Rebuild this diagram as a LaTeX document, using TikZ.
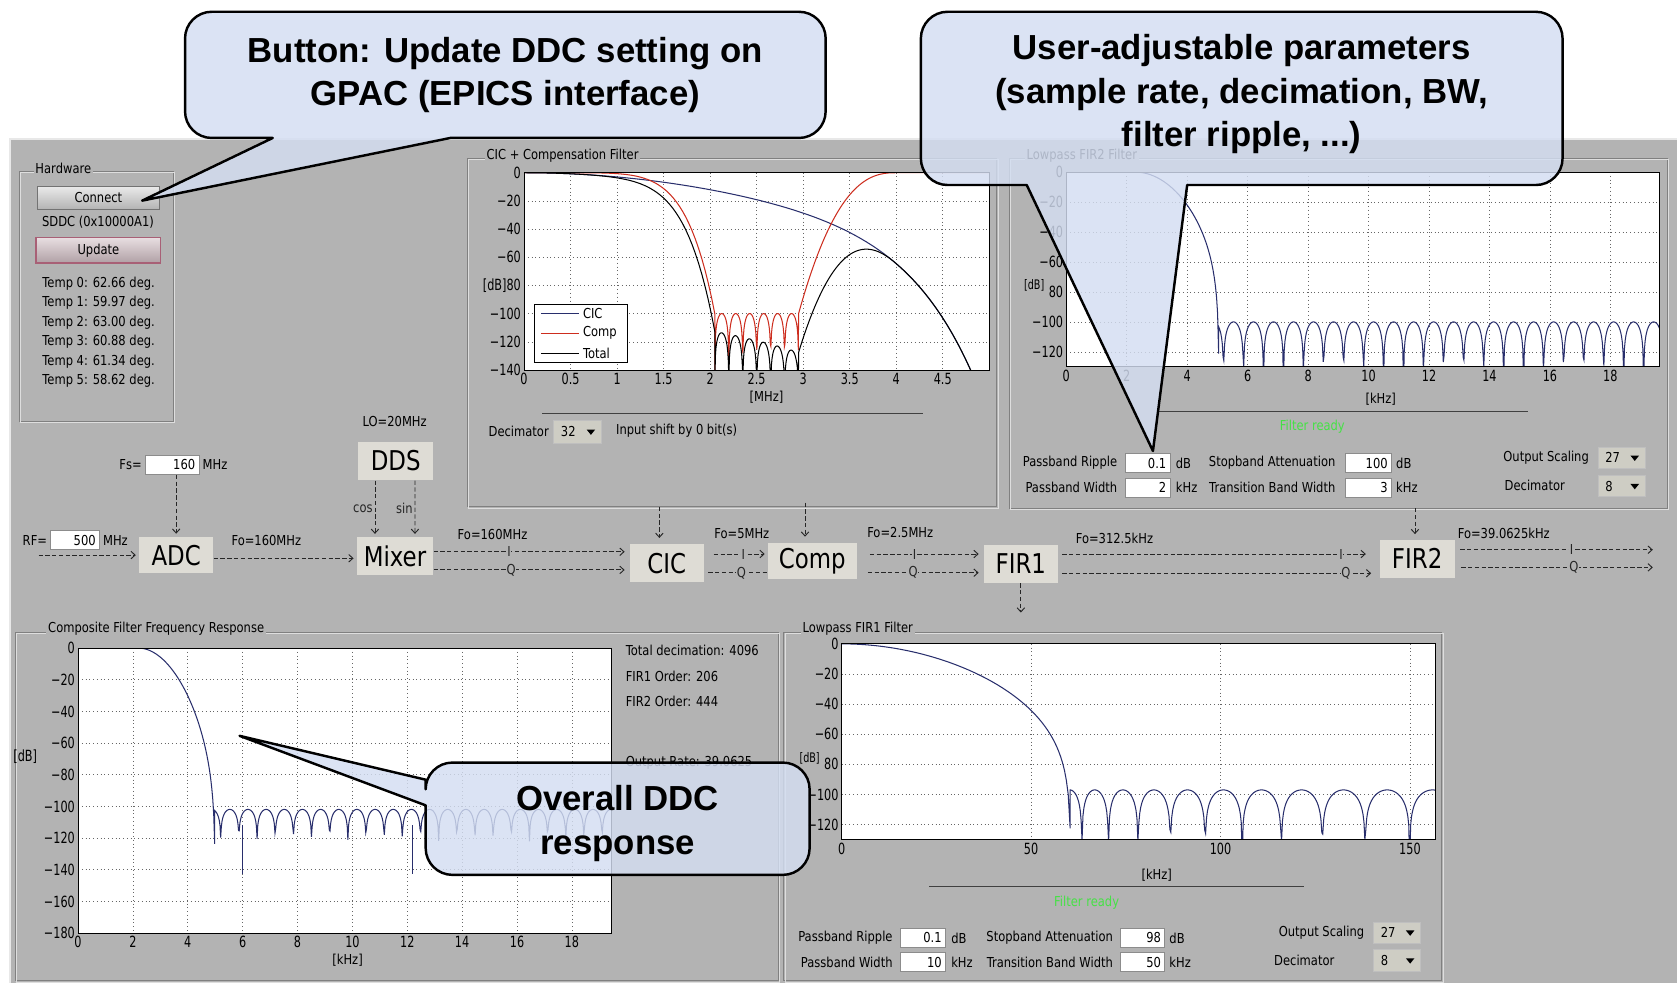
\documentclass[tikz,border=0pt]{standalone}
\usepackage{fontspec}
\usetikzlibrary{arrows.meta,positioning,calc}
\newfontfamily\guifont[FakeStretch=0.84]{DejaVu Sans}
\newfontfamily\tickfont[FakeStretch=0.73]{DejaVu Sans}
\newfontfamily\callfont{Liberation Sans}
\definecolor{guibg}{RGB}{179,179,179}
\definecolor{blockbg}{RGB}{222,220,213}
\definecolor{combobg}{RGB}{206,205,196}
\definecolor{calloutbg}{RGB}{212,222,242}
\definecolor{cicnavy}{RGB}{40,46,108}
\definecolor{compred}{RGB}{205,45,30}
\definecolor{readygreen}{RGB}{70,225,70}
\definecolor{panellight}{RGB}{222,222,222}
\definecolor{paneldark}{RGB}{128,128,128}

\begin{document}
\begin{tikzpicture}[x=0.02cm, y=-0.02cm,
    declare function={
      cic(\ff)=-3*\ff*\ff-71*(\ff/4.8)^8;
      compr(\ff)=-100*((4-\ff)/1.05)^2*sqrt((4-\ff)/1.05);
      lp(\zz,\kk)=-\kk*\zz*\zz+40*log10(max(1-\zz^6,0.0001));
      lobe(\pp)=20*log10(abs(sin(\pp))+0.001);
    },
    gui/.style={font=\guifont\fontsize{7.3}{8.5}\selectfont, inner sep=1pt},
    ticklab/.style={font=\tickfont\fontsize{8.2}{9}\selectfont, inner sep=1.5pt},
    block/.style={fill=blockbg, inner sep=0pt, font=\guifont\fontsize{14.5}{16}\selectfont},
    field/.style={gui, fill=white, draw=black!45, line width=0.4pt, minimum height=0.36cm,
      inner xsep=2pt, align=right},
    combo/.style={gui, fill=combobg, draw=black!25, line width=0.4pt, minimum height=0.4cm,
      minimum width=0.88cm, text width=0.6cm, inner xsep=2pt, align=left,
      path picture={\fill[black] ([xshift=-0.27cm,yshift=0.04cm]path picture bounding box.east)
        -- ++(0.16cm,0) -- ++(-0.08cm,-0.1cm) -- cycle;}},
    button/.style={gui, top color=white!92!black, bottom color=black!30, draw=black!55,
      line width=0.5pt},
    asciiline/.style={black!85, line width=0.5pt, dash pattern=on 2.3pt off 1.3pt},
    asciiarrow/.style={asciiline, -{Straight Barb[length=2.2pt,width=4pt]}, shorten >=1.5pt},
    iqmark/.style={gui, fill=guibg, inner sep=0.3pt},
    gridline/.style={black!60, line width=0.35pt, dash pattern=on 0.5pt off 1.5pt},
    plotframe/.style={black, line width=0.5pt},
    navytrace/.style={cicnavy, line width=0.55pt},
    callout/.style={fill=calloutbg, fill opacity=0.82, draw=black, line width=1.3pt, line join=round},
    calltext/.style={font=\callfont\bfseries\fontsize{18.5}{23}\selectfont, align=center, text=black}]

  \useasboundingbox (0,0) rectangle (1568,919);
  \fill[white] (0,0) rectangle (1568,919);

  % Application window
  \fill[guibg] (9.4,130.3) rectangle (1568,919);
  \draw[white!70!guibg, line width=1pt] (9.4,919) -- (9.4,130.3) -- (1568,130.3);

  % Panel frames
  \foreach \xa/\ya/\xb/\yb in {17.8/160.5/162/394, 437/148/932/474, 944/148/1559/475,
                               14/591/728/917, 733/591/1348/917} {
    \draw[paneldark, line width=0.5pt] (\xa,\ya) rectangle (\xb,\yb);
    \draw[panellight, line width=0.5pt] (\xa+1.2,\ya+1.2) rectangle (\xb+1.2,\yb+1.2);
  }
  \node[gui, fill=guibg] (hwtitle) at (59.2,157) {Hardware};
  \node[gui, fill=guibg] (cictitle) at (526,146) {CIC + Compensation Filter};
  \node[gui, fill=guibg] (fir2title) at (1011.5,146) {Lowpass FIR2 Filter};
  \node[gui, fill=guibg] (comptitle) at (146,588) {Composite Filter Frequency Response};
  \node[gui, fill=guibg] (fir1title) at (802,588) {Lowpass FIR1 Filter};

  % Hardware panel
  \node[button, minimum width=2.28cm, minimum height=0.44cm] (connect) at (92,185) {Connect};
  \node[gui] (sddc) at (91.6,207.3) {SDDC (0x10000A1)};
  \node[button, draw={rgb,255:red,168;green,96;blue,118}, line width=0.8pt,
        top color={rgb,255:red,232;green,222;blue,225}, bottom color={rgb,255:red,176;green,160;blue,165},
        minimum width=2.33cm, minimum height=0.48cm] (update) at (92,234) {Update};
  \foreach \tn/\val [count=\i] in {0/62.66,1/59.97,2/63.00,3/60.88,4/61.34,5/58.62}
    \node[gui, anchor=west] (temp\i) at (37.5,{246.8+18.2*\i}) {Temp \tn: \val\ deg.};

  % CIC + compensation response
  \begin{scope}[shift={(490,161.5)}, xscale=87, yscale=-1.318]
    \fill[white] (0,0) rectangle (5,-140);
    \foreach \gx in {0.5,1,...,4.5} \draw[gridline] (\gx,0) -- (\gx,-140);
    \foreach \gy in {-20,-40,...,-120} \draw[gridline] (0,\gy) -- (5,\gy);
    \foreach \gx [count=\i] in {0,0.5,1,1.5,2,2.5,3,3.5,4,4.5}
      \node[ticklab, below] (cicx\i) at (\gx,-140) {\gx};
    \foreach \gy/\lab [count=\i] in {0/0,-20/−20,-40/−40,-60/−60,-80/{[dB]80},-100/−100,-120/−120,-140/−140}
      \node[ticklab, left] (cicy\i) at (0,\gy) {\lab};
    \begin{scope}
      \clip (0,0) rectangle (5,-140);
      \draw[navytrace] plot[domain=0:4.85, samples=80] (\x,{cic(\x)});
      \draw[compred, line width=0.55pt] plot[domain=0:2.05, samples=60] (\x,{-100*(\x/2.05)^7})
        -- plot[domain=2.05:2.95, samples=150] (\x,{-100+20*log10(abs(sin(1200*(\x-2.05)))+0.01)})
        -- plot[domain=2.95:4, samples=50] (\x,{compr(\x)}) -- (5,0);
      \draw[black, line width=0.55pt] plot[domain=0:2.05, samples=60] (\x,{cic(\x)-100*(\x/2.05)^7})
        -- plot[domain=2.05:2.95, samples=150] (\x,{cic(\x)-100+20*log10(abs(sin(1200*(\x-2.05)))+0.01)})
        -- plot[domain=2.95:4, samples=50] (\x,{cic(\x)+compr(\x)})
        -- plot[domain=4:4.85, samples=30] (\x,{cic(\x)});
    \end{scope}
    \draw[plotframe] (0,0) rectangle (5,-140);
  \end{scope}
  % Legend
  \draw[black, line width=0.5pt, fill=white] (499.3,285) rectangle (586.3,339);
  \draw[cicnavy, line width=0.6pt] (506,293) -- (541.5,293);
  \draw[compred, line width=0.6pt] (506,311.6) -- (541.5,311.6);
  \draw[black, line width=0.6pt] (506,330.3) -- (541.5,330.3);
  \node[gui, anchor=west] (legcic) at (543,293) {CIC};
  \node[gui, anchor=west] (legcomp) at (543,311.6) {Comp};
  \node[gui, anchor=west] (legtotal) at (543,330.3) {Total};
  \node[gui] (cicunit) at (716.7,371) {[MHz]};
  \draw[black!75, line width=0.6pt] (507,387) -- (863,387);
  \node[gui] (cicdeclab) at (485,403) {Decimator};
  \node[combo, minimum width=0.9cm, minimum height=0.44cm] (cicdec) at (539.5,403.6) {32};
  \node[gui, anchor=west] (cicshift) at (574,403) {Input shift by 0 bit(s)};

  % FIR2 response
  \begin{scope}[shift={(997,161)}, xscale=28.26, yscale=-1.4]
    \fill[white] (0,0) rectangle (19.64,-130);
    \foreach \gx in {2,4,...,18} \draw[gridline] (\gx,0) -- (\gx,-130);
    \foreach \gy in {-20,-40,...,-120} \draw[gridline] (0,\gy) -- (19.64,\gy);
    \foreach \gx [count=\i] in {0,2,...,18}
      \node[ticklab, below] (f2x\i) at (\gx,-130) {\gx};
    \foreach \gy/\lab [count=\i] in {0/0,-20/−20,-40/−40,-60/−60,-80/80,-100/−100,-120/−120}
      \node[ticklab, left] (f2y\i) at (0,\gy) {\lab};
    \begin{scope}
      \clip (0,0) rectangle (19.64,-130);
      \draw[navytrace] (0,0) -- plot[domain=2.3:5.04, samples=80] (\x,{lp((\x-2.3)/2.75,55)})
        -- plot[domain=5.04:19.64, samples=600] (\x,{-100+lobe(180*(\x-5.2)/0.662)});
    \end{scope}
    \draw[plotframe] (0,0) rectangle (19.64,-130);
  \end{scope}
  \node[ticklab, anchor=east, inner sep=0.5pt, font=\tickfont\fontsize{7}{8}\selectfont] (f2db)
    at ($(f2y5.west)+(0,-6)$) {[dB]};
  \node[gui] (f2unit) at (1291,373) {[kHz]};
  \draw[black!75, line width=0.6pt] (1083,385) -- (1429,385);
  \node[gui, text=readygreen] (f2ready) at (1227,399) {Filter ready};
  \node[field, text width=0.7cm] (f2rip) at (1073,433) {0.1};
  \node[gui, left=0.1cm of f2rip] (f2riplab) {Passband Ripple};
  \node[gui, right=0.06cm of f2rip] (f2ripunit) {dB};
  \node[field, text width=0.7cm] (f2pbw) at (1073,456) {2};
  \node[gui, left=0.1cm of f2pbw] (f2pbwlab) {Passband Width};
  \node[gui, right=0.06cm of f2pbw] (f2pbwunit) {kHz};
  \node[field, text width=0.72cm] (f2att) at (1279.5,433) {100};
  \node[gui, left=0.14cm of f2att] (f2attlab) {Stopband Attenuation};
  \node[gui, right=0.04cm of f2att] (f2attunit) {dB};
  \node[field, text width=0.72cm] (f2tbw) at (1279.5,456) {3};
  \node[gui, left=0.14cm of f2tbw] (f2tbwlab) {Transition Band Width};
  \node[gui, right=0.04cm of f2tbw] (f2tbwunit) {kHz};
  \node[combo] (f2scale) at (1516,428) {27};
  \node[gui, left=0.12cm of f2scale] (f2scalelab) {Output Scaling};
  \node[combo] (f2dec) at (1516,454.5) {8};
  \node[gui] (f2declab) at (1435,454) {Decimator};

  % Composite response
  \begin{scope}[shift={(73,606)}, xscale=25.65, yscale=-1.48]
    \fill[white] (0,0) rectangle (19.45,-180);
    \foreach \gx in {2,4,...,18} \draw[gridline] (\gx,0) -- (\gx,-180);
    \foreach \gy in {-20,-40,...,-160} \draw[gridline] (0,\gy) -- (19.45,\gy);
    \foreach \gx [count=\i] in {0,2,...,18}
      \node[ticklab, below] (cpx\i) at (\gx,-180) {\gx};
    \foreach \gy/\lab [count=\i] in {0/0,-20/−20,-40/−40,-60/−60,-80/−80,-100/−100,-120/−120,-140/−140,-160/−160,-180/−180}
      \node[ticklab, left] (cpy\i) at (0,\gy) {\lab};
    \begin{scope}
      \clip (0,0) rectangle (19.45,-180);
      \draw[navytrace] (0,0) -- plot[domain=2.2:4.98, samples=80] (\x,{lp((\x-2.2)/2.8,70)})
        -- plot[domain=4.98:19.45, samples=600] (\x,{-102+12*log10(abs(sin(180*(\x-5.2)/0.662))+0.02)});
      \draw[navytrace] (6,-112) -- (6,-143);
      \draw[navytrace] (12.2,-112) -- (12.2,-143);
    \end{scope}
    \draw[plotframe] (0,0) rectangle (19.45,-180);
  \end{scope}
  \node[ticklab] (cpdb) at (23.6,707.5) {[dB]};
  \node[gui] (cpunit) at (325,898) {[kHz]};
  \node[gui, anchor=west] (totdec) at (583,608) {Total decimation: 4096};
  \node[gui, anchor=west] (fir1ord) at (583,632) {FIR1 Order: 206};
  \node[gui, anchor=west] (fir2ord) at (583,656) {FIR2 Order: 444};
  \node[gui, anchor=west] (outrate) at (583,713) {Output Rate: 39.0625};

  % FIR1 response
  \begin{scope}[shift={(787,602)}, xscale=3.542, yscale=-1.408]
    \fill[white] (0,0) rectangle (156.7,-130);
    \foreach \gx in {50,100,150} \draw[gridline] (\gx,0) -- (\gx,-130);
    \foreach \gy in {-20,-40,...,-120} \draw[gridline] (0,\gy) -- (156.7,\gy);
    \foreach \gx [count=\i] in {0,50,100,150}
      \node[ticklab, below] (f1x\i) at (\gx,-130) {\gx};
    \foreach \gy/\lab [count=\i] in {0/0,-20/−20,-40/−40,-60/−60,-80/80,-100/−100,-120/−120}
      \node[ticklab, left] (f1y\i) at (0,\gy) {\lab};
    \begin{scope}
      \clip (0,0) rectangle (156.7,-130);
      \draw[navytrace] plot[domain=0:60.3, samples=120] (\x,{lp(\x/60.5,55)})
        -- plot[domain=60.3:156.7, samples=400] (\x,{-97+lobe(85.47*((\x-50)^0.7-6.15))});
    \end{scope}
    \draw[plotframe] (0,0) rectangle (156.7,-130);
  \end{scope}
  \node[ticklab, anchor=east, inner sep=0.5pt, font=\tickfont\fontsize{7}{8}\selectfont] (f1db)
    at ($(f1y5.west)+(0,-6)$) {[dB]};
  \node[gui] (f1unit) at (1081.5,818) {[kHz]};
  \draw[black!75, line width=0.6pt] (869,828.5) -- (1219,828.5);
  \node[gui, text=readygreen] (f1ready) at (1016,844) {Filter ready};
  \node[field, text width=0.7cm] (f1rip) at (863,877) {0.1};
  \node[gui, left=0.1cm of f1rip] (f1riplab) {Passband Ripple};
  \node[gui, right=0.06cm of f1rip] (f1ripunit) {dB};
  \node[field, text width=0.7cm] (f1pbw) at (863,899.5) {10};
  \node[gui, left=0.1cm of f1pbw] (f1pbwlab) {Passband Width};
  \node[gui, right=0.06cm of f1pbw] (f1pbwunit) {kHz};
  \node[field, text width=0.68cm] (f1att) at (1068.5,877) {98};
  \node[gui, left=0.1cm of f1att] (f1attlab) {Stopband Attenuation};
  \node[gui, right=0.04cm of f1att] (f1attunit) {dB};
  \node[field, text width=0.68cm] (f1tbw) at (1068.5,899.5) {50};
  \node[gui, left=0.1cm of f1tbw] (f1tbwlab) {Transition Band Width};
  \node[gui, right=0.04cm of f1tbw] (f1tbwunit) {kHz};
  \node[combo] (f1scale) at (1306,872) {27};
  \node[gui, left=0.12cm of f1scale] (f1scalelab) {Output Scaling};
  \node[combo] (f1dec) at (1306,898) {8};
  \node[gui] (f1declab) at (1219.5,898) {Decimator};

  % DDC chain
  \node[block, minimum width=1.39cm, minimum height=0.68cm] (ADC) at (164.7,519) {ADC};
  \node[block, minimum width=1.4cm, minimum height=0.72cm] (DDS) at (370,431) {DDS};
  \node[block, minimum width=1.43cm, minimum height=0.71cm] (Mixer) at (369.3,519.9) {Mixer};
  \node[block, minimum width=1.38cm, minimum height=0.72cm] (CIC) at (623.5,526.6) {CIC};
  \node[block, minimum width=1.66cm, minimum height=0.68cm] (Comp) at (759.5,524.4) {Comp};
  \node[block, minimum width=1.38cm, minimum height=0.71cm] (FIR1) at (954.5,527.3) {FIR1};
  \node[block, minimum width=1.4cm, minimum height=0.7cm] (FIR2) at (1325,522.5) {FIR2};

  \node[field, text width=0.77cm] (RFbox) at (70.2,505) {500};
  \node[gui, left=0.02cm of RFbox] (rflab) {RF=};
  \node[gui, right=0.02cm of RFbox] (rfunit) {MHz};
  \node[field, text width=0.86cm] (Fsbox) at (161,434.7) {160};
  \node[gui, left=0.02cm of Fsbox] (fslab) {Fs=};
  \node[gui, right=0.02cm of Fsbox] (fsunit) {MHz};

  \node[gui] (lo) at (369,394) {LO=20MHz};
  \node[gui] (fo1) at (249,505) {Fo=160MHz};
  \node[gui] (fo2) at (460.5,500) {Fo=160MHz};
  \node[gui] (fo3) at (693.6,498.6) {Fo=5MHz};
  \node[gui] (fo4) at (841.7,497.8) {Fo=2.5MHz};
  \node[gui] (fo5) at (1042,503) {Fo=312.5kHz};
  \node[gui] (fo6) at (1406,498.6) {Fo=39.0625kHz};

  % Connectors
  \coordinate (rfin) at (36,519);
  \draw[asciiarrow] (rfin) -- (rfin -| ADC.west);
  \draw[asciiarrow] (ADC.north |- Fsbox.south) -- (ADC.north);
  \draw[asciiarrow] ($(ADC.east)+(0,3)$) -- ($(Mixer.west |- ADC.east)+(0,3)$);
  \draw[asciiarrow] ($(DDS.south)+(-19.4,0)$) -- node[gui, left] (coslab) {cos} ($(Mixer.north)+(-18.7,0)$);
  \draw[asciiarrow] ($(DDS.south)+(18,0)$) -- node[gui, left] (sinlab) {sin} ($(Mixer.north)+(18.7,0)$);
  \draw[asciiarrow] ($(Mixer.east)+(0,-4)$) -- node[iqmark, pos=0.39] (mixi) {I} ($(CIC.west |- Mixer.east)+(-2,-4)$);
  \draw[asciiarrow] ($(Mixer.east)+(0,13)$) -- node[iqmark, pos=0.4] (mixq) {Q} ($(CIC.west |- Mixer.east)+(-2,13)$);
  \draw[asciiarrow] ($(CIC.east)+(9,-8.6)$) -- node[iqmark, pos=0.55] (cici) {I} ($(Comp.west |- CIC.east)+(0,-8.6)$);
  \draw[asciiline] ($(CIC.east)+(4,9)$) -- node[iqmark, pos=0.56] (cicq) {Q} ($(Comp.west |- CIC.east)+(0,9)$);
  \draw[asciiarrow] ($(Comp.east)+(12,-6.4)$) -- node[iqmark, pos=0.4] (compi) {I} ($(FIR1.west |- Comp.east)+(-2,-6.4)$);
  \draw[asciiarrow] ($(Comp.east)+(10,11.1)$) -- node[iqmark, pos=0.4] (compq) {Q} ($(FIR1.west |- Comp.east)+(-2,11.1)$);
  \draw[asciiarrow] ($(FIR1.east)+(4,-9.3)$) -- node[iqmark, pos=0.91] (fir1i) {I} ($(FIR2.west |- FIR1.east)+(-10,-9.3)$);
  \draw[asciiarrow] ($(FIR1.east)+(4,8.7)$) -- node[iqmark, pos=0.91] (fir1q) {Q} ($(FIR2.west |- FIR1.east)+(-5,8.7)$);
  \coordinate (iout) at (1548,514);
  \coordinate (qout) at (1548,530.5);
  \draw[asciiarrow] ($(FIR2.east)+(5,-8.5)$) -- node[iqmark, pos=0.57] (fir2i) {I} (iout);
  \draw[asciiarrow] ($(FIR2.east)+(6,8)$) -- node[iqmark, pos=0.58] (fir2q) {Q} (qout);
  \coordinate (cictap) at (616.5,474);
  \coordinate (comptap) at (752.7,470);
  \coordinate (fir2tap) at (1323,475);
  \draw[asciiarrow, shorten >=3pt] (cictap) -- (cictap |- CIC.north);
  \draw[asciiarrow, shorten >=3pt] (comptap) -- (comptap |- Comp.north);
  \draw[asciiarrow, shorten >=3pt] (fir2tap) -- (fir2tap |- FIR2.north);
  \draw[asciiarrow] (FIR1.south) -- ++(0,30) coordinate (fir1out);

  % Callouts
  \coordinate (tipA) at ($(connect.east)+(-16.5,2.6)$);
  \coordinate (tipB) at ($(f2rip.north)+(5,-2)$);
  \coordinate (tipC) at (224,688);
  \path[callout] (tipA) -- (421,129) -- (747,129) arc[start angle=-90, end angle=0, radius=0.5cm]
    -- (772,36) arc[start angle=0, end angle=90, radius=0.5cm]
    -- (198,11) arc[start angle=90, end angle=180, radius=0.5cm]
    -- (173,104) arc[start angle=180, end angle=270, radius=0.5cm] -- (255,129) -- cycle;
  \node[calltext] (noteA) at (472.5,70) {Button: Update DDC setting on\\GPAC (EPICS interface)};
  \path[callout] (tipB) -- (1110,173) -- (1436,173) arc[start angle=-90, end angle=0, radius=0.5cm]
    -- (1461,36) arc[start angle=0, end angle=90, radius=0.5cm]
    -- (886,11) arc[start angle=90, end angle=180, radius=0.5cm]
    -- (861,148) arc[start angle=180, end angle=270, radius=0.5cm] -- (960,173) -- cycle;
  \node[calltext] (noteB) at (1161,88) {User-adjustable parameters\\(sample rate, decimation, BW,\\filter ripple, ...)};
  \path[callout] (tipC) -- (398,729) -- (398,738) arc[start angle=180, end angle=90, radius=0.5cm]
    -- (732,713) arc[start angle=90, end angle=0, radius=0.5cm]
    -- (757,793) arc[start angle=0, end angle=-90, radius=0.5cm]
    -- (423,818) arc[start angle=-90, end angle=-180, radius=0.5cm] -- (398,753) -- cycle;
  \node[calltext] (noteC) at (577.5,770) {Overall DDC\\response};
\end{tikzpicture}
\end{document}
